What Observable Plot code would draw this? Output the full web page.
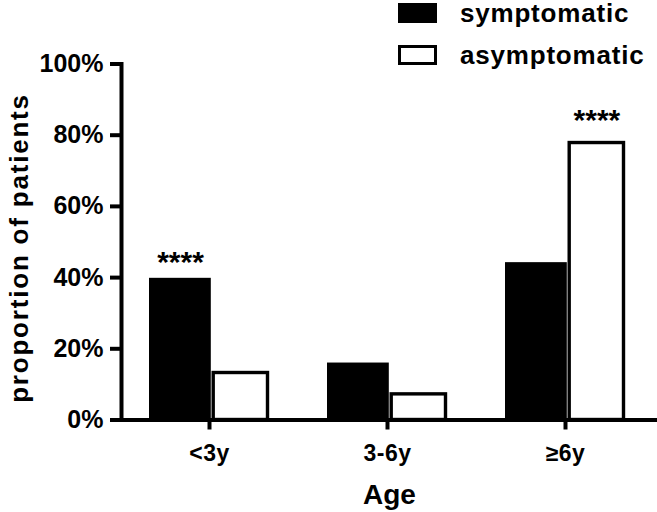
<!DOCTYPE html>
<html><head><meta charset="utf-8">
<script src="https://cdn.jsdelivr.net/npm/d3@7"></script>
<script src="https://cdn.jsdelivr.net/npm/@observablehq/plot@0.6"></script>
<style>
body{margin:0;background:#fff;}
#wrap{position:relative;width:657px;height:512px;font-family:"Liberation Sans",Arial,sans-serif;font-weight:bold;}
#legend{position:absolute;left:398px;top:0;}
.row{position:absolute;left:0;display:flex;align-items:center;white-space:nowrap;height:20px;}
.sw{width:39px;height:20px;box-sizing:border-box;border:3px solid #000;}
.lab{margin-left:23px;font-size:26px;letter-spacing:0.8px;line-height:20px;}
g[aria-label="x-axis label"]{font-size:28px;}
g[aria-label="x-axis tick label"]{letter-spacing:0.5px;}
.ylab{letter-spacing:1.8px;}
</style></head>
<body><div id="wrap"><div id="legend"></div></div>
<script>
const ages = ["<3y", "3-6y", "≥6y"];
const series = ["symptomatic", "asymptomatic"];
const symptomatic = [39.8, 16.0, 44.2];
const asymptomatic = [13.2, 7.2, 77.8];
const yTicks = [0, 20, 40, 60, 80, 100];
const yLabel = "proportion of patients";
const xLabel = "Age";
const starAges = ["<3y", "≥6y"];
const starSeries = ["symptomatic", "asymptomatic"];
const starY = [44.2, 84.1];
const starLabels = ["****", "****"];

const symData = ages.map((a, i) => ({age: a, value: symptomatic[i]}));
const asymData = ages.map((a, i) => ({age: a, value: asymptomatic[i]}));
const stars = starAges.map((a, i) => ({age: a, series: starSeries[i], y: starY[i], label: starLabels[i]}));

const chart = Plot.plot({
  width: 657, height: 512,
  marginLeft: 121, marginRight: 0, marginTop: 63.5, marginBottom: 92.5,
  style: {fontFamily: '"Liberation Sans", Arial, sans-serif', fontWeight: "bold", background: "white", overflow: "visible"},
  x: {type: "band", domain: ages, range: [119, 655], padding: 0},
  y: {domain: [0, 100]},
  marks: [
    Plot.barY(symData, {x: "age", y: "value", fill: "black", insetLeft: 29, insetRight: 87.2}),
    Plot.barY(asymData, {x: "age", y: "value", fill: "white", stroke: "black", strokeWidth: 3.4, insetLeft: 93.2, insetRight: 30.5}),
    Plot.ruleY([0], {strokeWidth: 4}),
    Plot.frame({anchor: "left", strokeWidth: 4}),
    Plot.axisY({ticks: yTicks, tickFormat: d => d + "%", tickSize: 11, tickPadding: 7, strokeWidth: 4, fontSize: 25, label: null}),
    Plot.text([yLabel], {text: d => d, frameAnchor: "left", textAnchor: "middle", rotate: -90, lineAnchor: "top", dx: -112, dy: 6, fontSize: 26, className: "ylab"}),
    Plot.axisX({tickSize: 10, tickPadding: 15, strokeWidth: 4, fontSize: 23,
      label: xLabel, labelArrow: "none", labelAnchor: "center", labelOffset: 84}),
    Plot.text(stars.filter(d => d.series === "symptomatic"), {x: "age", y: "y", text: "label", dx: -29, fontSize: 30}),
    Plot.text(stars.filter(d => d.series === "asymptomatic"), {x: "age", y: "y", text: "label", dx: 31.4, fontSize: 30})
  ]
});
const wrap = document.getElementById("wrap");
wrap.insertBefore(chart, wrap.firstChild);

const legend = document.getElementById("legend");
const swFill = {symptomatic: "#000", asymptomatic: "#fff"};
series.forEach((s, i) => {
  const row = document.createElement("div");
  row.className = "row";
  row.style.top = (3 + i * 42) + "px";
  const sw = document.createElement("div");
  sw.className = "sw";
  sw.style.background = swFill[s];
  const lab = document.createElement("span");
  lab.className = "lab";
  lab.textContent = s;
  row.appendChild(sw); row.appendChild(lab);
  legend.appendChild(row);
});
</script>
</body></html>
